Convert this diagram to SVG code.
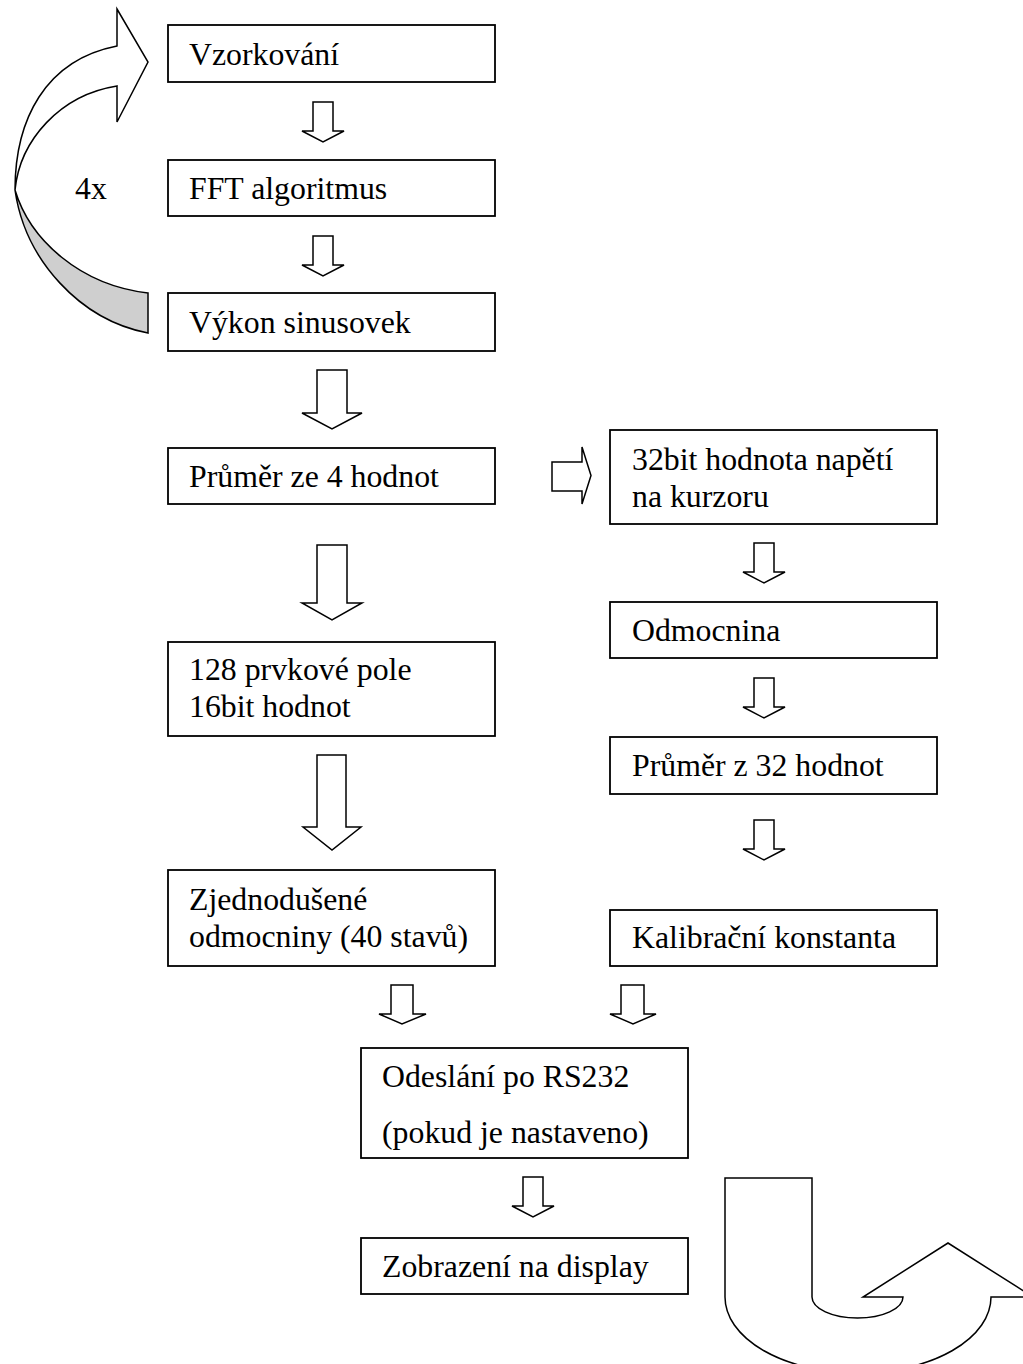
<svg xmlns="http://www.w3.org/2000/svg" width="1023" height="1364" viewBox="0 0 1023 1364">
<style>
.box{fill:#fff;stroke:#000;stroke-width:1.8}
.arr{fill:#fff;stroke:#000;stroke-width:1.5;stroke-linejoin:miter}
text{font-family:"Liberation Serif","Times New Roman",serif;font-size:31.8px;fill:#000}
</style>
<rect width="1023" height="1364" fill="#fff"/>
<g id="connectors">
<path class="arr" d="M313,102 L333,102 L333,131 L344,131 L323,142 L302,131 L313,131 Z"/>
<path class="arr" d="M313,236 L333,236 L333,265 L344,265 L323,276 L302,265 L313,265 Z"/>
<path class="arr" d="M317,370 L347,370 L347,413 L362,413 L332,429 L302,413 L317,413 Z"/>
<path class="arr" d="M317,545 L347,545 L347,603 L362,603 L332,620 L302,603 L317,603 Z"/>
<path class="arr" d="M317,755 L346,755 L346,827 L361,827 L332,850 L303,827 L317,827 Z"/>
<path class="arr" d="M552,462 L582,462 L582,447 L591,475.5 L582,504 L582,491 L552,491 Z"/>
<path class="arr" d="M754,543 L774,543 L774,572 L785,572 L764,583 L743,572 L754,572 Z"/>
<path class="arr" d="M754,678 L774,678 L774,707 L785,707 L764,718 L743,707 L754,707 Z"/>
<path class="arr" d="M754,820 L774,820 L774,849 L785,849 L764,860 L743,849 L754,849 Z"/>
<path class="arr" d="M391,985 L413,985 L413,1014 L426,1014 L402,1024 L379,1014 L391,1014 Z"/>
<path class="arr" d="M621,985 L644,985 L644,1014 L656,1014 L633,1024 L610,1014 L621,1014 Z"/>
<path class="arr" d="M523,1177 L543,1177 L543,1206 L554,1206 L533,1217 L512,1206 L523,1206 Z"/>
<g id="loop-arrow">
<path d="M15,190 C30,240 80,285 148,293 L148,333 C80,320 25,260 15,190 Z" fill="#cfcfcf" stroke="#000" stroke-width="1.5"/>
<path d="M117,9 L148,62 L117,122 L117,86 C60,95 20,140 15,190 C15,120 45,60 117,46 Z" fill="#fff" stroke="#000" stroke-width="1.5" stroke-linejoin="miter"/>
</g>
<path id="uturn-arrow" d="M725,1178 L812,1178 L812,1297 A45.5,21 0 0 0 903,1297 L863,1297 L948,1243 L1033,1297 L991,1297 A133,76 0 0 1 725,1297 Z" fill="#fff" stroke="#000" stroke-width="1.5"/>
</g>
<text x="75" y="199">4x</text>
<g id="n-vzorkovani"><rect class="box" x="168" y="25" width="327" height="57"/><text x="189" y="65">Vzorkování</text></g>
<g id="n-fft"><rect class="box" x="168" y="160" width="327" height="56"/><text x="189" y="199">FFT algoritmus</text></g>
<g id="n-vykon"><rect class="box" x="168" y="293" width="327" height="58"/><text x="189" y="333">Výkon sinusovek</text></g>
<g id="n-prumer4"><rect class="box" x="168" y="448" width="327" height="56"/><text x="189" y="487">Průměr ze 4 hodnot</text></g>
<g id="n-pole"><rect class="box" x="168" y="642" width="327" height="94"/><text x="189" y="680">128 prvkové pole</text><text x="189" y="717">16bit hodnot</text></g>
<g id="n-zjednodusene"><rect class="box" x="168" y="870" width="327" height="96"/><text x="189" y="910">Zjednodušené</text><text x="189" y="947">odmocniny (40 stavů)</text></g>
<g id="n-32bit"><rect class="box" x="610" y="430" width="327" height="94"/><text x="632" y="470">32bit hodnota napětí</text><text x="632" y="507">na kurzoru</text></g>
<g id="n-odmocnina"><rect class="box" x="610" y="602" width="327" height="56"/><text x="632" y="641">Odmocnina</text></g>
<g id="n-prumer32"><rect class="box" x="610" y="737" width="327" height="57"/><text x="632" y="776">Průměr z 32 hodnot</text></g>
<g id="n-kalibracni"><rect class="box" x="610" y="910" width="327" height="56"/><text x="632" y="948">Kalibrační konstanta</text></g>
<g id="n-odeslani"><rect class="box" x="361" y="1048" width="327" height="110"/><text x="382" y="1087">Odeslání po RS232</text><text x="382" y="1143">(pokud je nastaveno)</text></g>
<g id="n-zobrazeni"><rect class="box" x="361" y="1238" width="327" height="56"/><text x="382" y="1277">Zobrazení na display</text></g>
</svg>
